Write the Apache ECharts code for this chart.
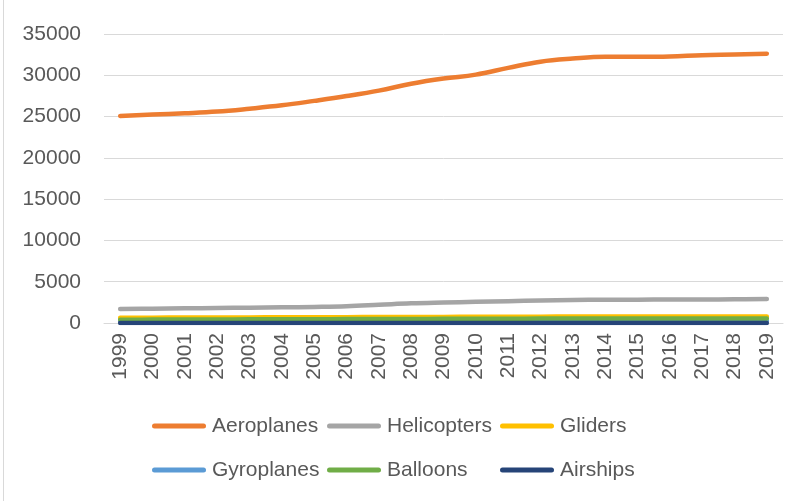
<!DOCTYPE html>
<html>
<head>
<meta charset="utf-8">
<script src="https://cdn.jsdelivr.net/npm/echarts@6/dist/echarts.min.js"></script>
<style>
  html, body { margin: 0; padding: 0; background: #ffffff; }
  #chart { width: 800px; height: 501px; }
</style>
</head>
<body>
<div id="chart"></div>
<script>
// Registered aircraft by type, 1999-2019
const years = ['1999','2000','2001','2002','2003','2004','2005','2006','2007','2008','2009',
               '2010','2011','2012','2013','2014','2015','2016','2017','2018','2019'];

const aeroplanes  = [25080, 25250, 25400, 25600, 25950, 26360, 26900, 27480, 28140, 28970, 29600,
                     30080, 30900, 31650, 32020, 32230, 32230, 32270, 32440, 32520, 32620];
const helicopters = [1700, 1740, 1780, 1820, 1860, 1900, 1950, 2030, 2200, 2380, 2480,
                     2560, 2640, 2720, 2800, 2830, 2830, 2840, 2850, 2870, 2900];
const gliders     = [640, 650, 660, 670, 680, 690, 700, 710, 720, 730, 740,
                     750, 760, 770, 780, 790, 790, 790, 790, 790, 790];
const gyroplanes  = [150, 160, 170, 180, 190, 200, 210, 220, 230, 240, 250,
                     260, 270, 280, 280, 280, 280, 280, 280, 280, 280];
const balloons    = [400, 410, 420, 430, 440, 450, 460, 470, 480, 490, 500,
                     510, 520, 530, 540, 540, 540, 540, 540, 540, 540];
const airships    = [10, 10, 10, 10, 10, 10, 10, 10, 10, 10, 10,
                     10, 10, 10, 10, 10, 10, 10, 10, 10, 10];

const yTicks = { min: 0, max: 35000, step: 5000 };

const seriesDefs = [
  { name: 'Aeroplanes',  data: aeroplanes,  color: '#ED7D31' },
  { name: 'Helicopters', data: helicopters, color: '#A5A5A5' },
  { name: 'Gliders',     data: gliders,     color: '#FFC000' },
  { name: 'Gyroplanes',  data: gyroplanes,  color: '#5B9BD5' },
  { name: 'Balloons',    data: balloons,    color: '#70AD47' },
  { name: 'Airships',    data: airships,    color: '#264478' }
];

const FONT = 'Liberation Sans, Arial, sans-serif';
const TEXT = '#595959';
const capsule = 'path://M2.5,0 L51.5,0 A2.5,2.5 0 0 1 51.5,5 L2.5,5 A2.5,2.5 0 0 1 2.5,0 Z';

function legendColumn(names, left) {
  return {
    data: names,
    orient: 'vertical',
    left: left,
    top: 414,
    padding: 0,
    itemGap: 20,
    itemWidth: 54,
    itemHeight: 5,
    icon: capsule,
    textStyle: { fontFamily: FONT, fontSize: 21, color: TEXT, lineHeight: 24, padding: [0, 0, 0, 1] }
  };
}

const chart = echarts.init(document.getElementById('chart'), null, { renderer: 'canvas' });
chart.setOption({
  animation: false,
  backgroundColor: '#ffffff',
  color: seriesDefs.map(s => s.color),
  grid: { left: 104, right: 17, top: 34, bottom: 178, containLabel: false },
  xAxis: {
    type: 'category',
    data: years,
    boundaryGap: true,
    axisLine: { show: true, lineStyle: { color: '#D9D9D9', width: 1 } },
    axisTick: { show: false },
    axisLabel: { rotate: 90, margin: 10, fontFamily: FONT, fontSize: 21, color: TEXT, interval: 0 }
  },
  yAxis: {
    type: 'value',
    min: yTicks.min,
    max: yTicks.max,
    interval: yTicks.step,
    axisLine: { show: false },
    axisTick: { show: false },
    splitLine: { lineStyle: { color: '#D9D9D9', width: 1 } },
    axisLabel: {
      margin: 23, fontFamily: FONT, fontSize: 21, color: TEXT,
      formatter: v => String(v)
    }
  },
  legend: [
    legendColumn(['Aeroplanes', 'Gyroplanes'], 152),
    legendColumn(['Helicopters', 'Balloons'], 327),
    legendColumn(['Gliders', 'Airships'], 500)
  ],
  graphic: [{
    type: 'line',
    shape: { x1: 3.5, y1: 0, x2: 3.5, y2: 501 },
    style: { stroke: '#D9D9D9', lineWidth: 1 }
  }],
  series: seriesDefs.map(s => ({
    name: s.name,
    type: 'line',
    data: s.data,
    smooth: 0.4,
    symbol: 'none',
    lineStyle: { width: 4.5, color: s.color, cap: 'round', join: 'round' },
    itemStyle: { color: s.color }
  }))
});
</script>
</body>
</html>
